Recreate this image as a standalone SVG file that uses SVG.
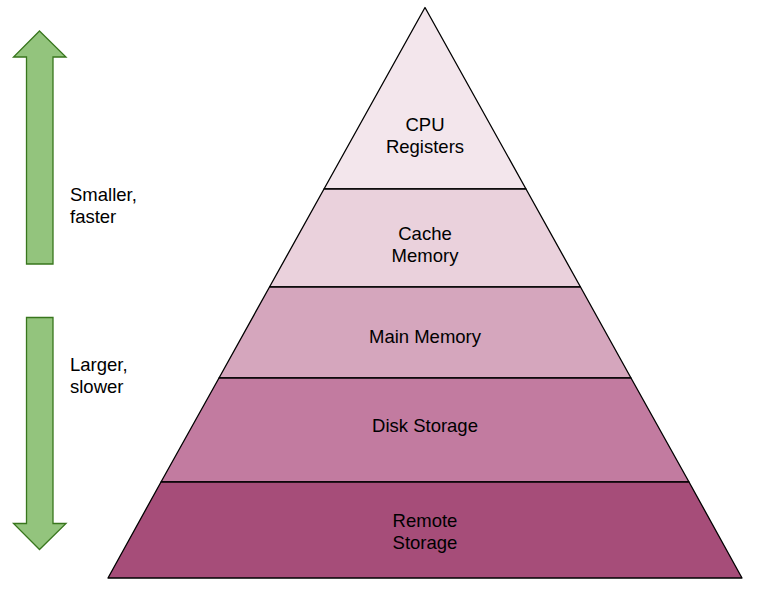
<svg xmlns="http://www.w3.org/2000/svg" width="766" height="593" viewBox="0 0 766 593">
<style>
.layer{stroke:#000;stroke-width:1.3;stroke-linejoin:round}
.arrow{fill:#93c47d;stroke:#38761d;stroke-width:1.3}
text{font-family:"Liberation Sans",Arial,sans-serif;font-size:18.5px;fill:#000}
.c{text-anchor:middle}
</style>
<rect width="766" height="593" fill="#fff"/>
<g id="arrow-up">
<polygon class="arrow" points="39.5,31 66,57 53,57 53,264 26.5,264 26.5,57 13.5,57"/>
</g>
<g id="arrow-down">
<polygon class="arrow" points="26.5,317.5 53,317.5 53,523.5 66,523.5 39.5,549.5 13.5,523.5 26.5,523.5"/>
</g>
<g id="label-smaller">
<text x="70" y="200.5">Smaller,</text>
<text x="70" y="222.5">faster</text>
</g>
<g id="label-larger">
<text x="70" y="371">Larger,</text>
<text x="70" y="393">slower</text>
</g>
<g id="cpu-registers">
<polygon class="layer" fill="#f3e6ec" points="425,7.5 526,189 324,189"/>
<text class="c" x="425" y="130.5">CPU</text>
<text class="c" x="425" y="152.5">Registers</text>
</g>
<g id="cache-memory">
<polygon class="layer" fill="#ead1dc" points="324,189 526,189 580.5,287 269.5,287"/>
<text class="c" x="425" y="240">Cache</text>
<text class="c" x="425" y="262">Memory</text>
</g>
<g id="main-memory">
<polygon class="layer" fill="#d5a6bd" points="269.5,287 580.5,287 631,378 219,378"/>
<text class="c" x="425" y="342.5">Main Memory</text>
</g>
<g id="disk-storage">
<polygon class="layer" fill="#c27ba0" points="219,378 631,378 689,482 161,482"/>
<text class="c" x="425" y="432">Disk Storage</text>
</g>
<g id="remote-storage">
<polygon class="layer" fill="#a64d79" points="161,482 689,482 742,578 108,578"/>
<text class="c" x="425" y="527">Remote</text>
<text class="c" x="425" y="549">Storage</text>
</g>
<g id="connectors"></g>
</svg>
